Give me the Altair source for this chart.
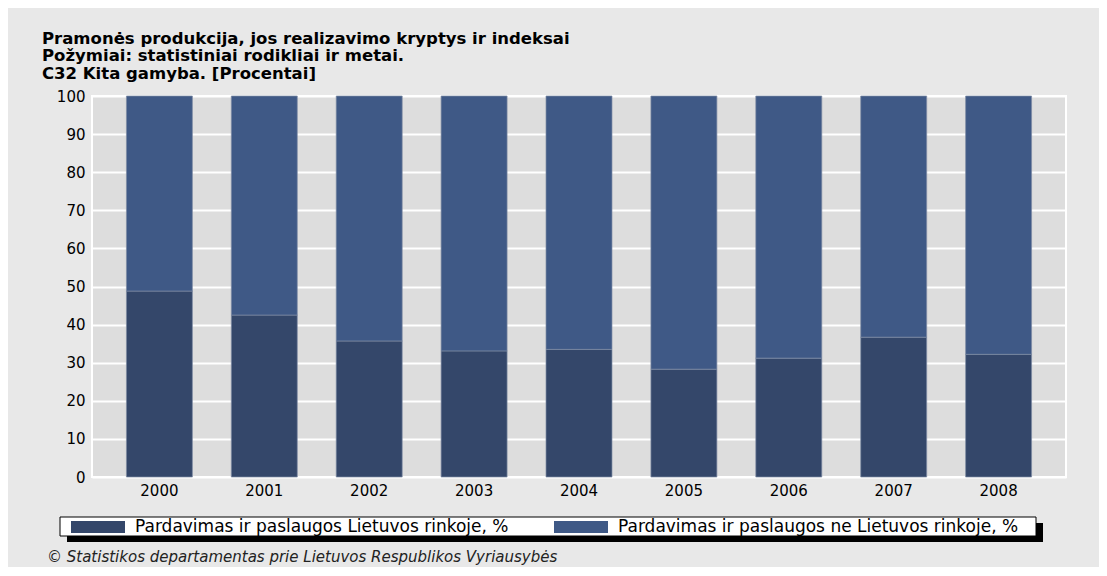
import altair as alt
import pandas as pd

years = ["2000", "2001", "2002", "2003", "2004", "2005", "2006", "2007", "2008"]
domestic = [48.8, 42.5, 35.7, 33.1, 33.5, 28.3, 31.2, 36.7, 32.2]
foreign = [51.2, 57.5, 64.3, 66.9, 66.5, 71.7, 68.8, 63.3, 67.8]
series = ["Pardavimas ir paslaugos Lietuvos rinkoje, %",
          "Pardavimas ir paslaugos ne Lietuvos rinkoje, %"]
colors = ["#34476a", "#3f5986"]
title_lines = ["Pramonės produkcija, jos realizavimo kryptys ir indeksai",
               "Požymiai: statistiniai rodikliai ir metai.",
               "C32 Kita gamyba. [Procentai]"]
source_text = "© Statistikos departamentas prie Lietuvos Respublikos Vyriausybės"
y_ticks = [0, 10, 20, 30, 40, 50, 60, 70, 80, 90, 100]

rows = []
for i, yr in enumerate(years):
    rows.append({"year": yr, "series": series[0], "value": domestic[i], "ord": 0})
    rows.append({"year": yr, "series": series[1], "value": foreign[i], "ord": 1})
df = pd.DataFrame(rows)
one = pd.DataFrame({"k": [0]})

FONT = "DejaVu Sans"

bars = alt.Chart(df).mark_bar(stroke="#7f8ca5", strokeWidth=0.7).encode(
    x=alt.X("year:N", sort=years, title=None,
            scale=alt.Scale(paddingInner=0.371, paddingOuter=0.328),
            axis=alt.Axis(labelAngle=0, ticks=False, domain=False, labelPadding=6,
                          labelFont=FONT, labelFontSize=15, labelColor="black")),
    y=alt.Y("value:Q", stack="zero", title=None,
            scale=alt.Scale(domain=[0, 100], nice=False),
            axis=alt.Axis(values=y_ticks, ticks=False, domain=False, labelPadding=7,
                          gridColor="white", gridWidth=2, gridOpacity=1,
                          labelFont=FONT, labelFontSize=15, labelColor="black")),
    color=alt.Color("series:N", sort=series,
                    scale=alt.Scale(domain=series, range=colors),
                    legend=alt.Legend(orient="none", legendX=-21, legendY=404,
                                      direction="horizontal", title=None,
                                      symbolType="M-1,-0.222H1V0.222H-1Z",
                                      symbolSize=2916, symbolStrokeWidth=0,
                                      symbolOpacity=1, labelFont=FONT,
                                      labelFontSize=17, labelColor="black",
                                      labelLimit=0, labelOffset=10,
                                      columnPadding=45, padding=0)),
    order=alt.Order("ord:Q"),
)

shadow = alt.Chart(one).mark_rect(color="black").encode(
    x=alt.value(-25), x2=alt.value(951), y=alt.value(427), y2=alt.value(446))
box = alt.Chart(one).mark_rect(fill="white", stroke="black", strokeWidth=1).encode(
    x=alt.value(-32), x2=alt.value(944), y=alt.value(421), y2=alt.value(440))
source = alt.Chart(one).mark_text(align="left", baseline="middle", font=FONT,
                                  fontSize=15, fontStyle="italic", color="#222222").encode(
    x=alt.value(-45), y=alt.value(461), text=alt.value(source_text))

chart = alt.layer(shadow, box, bars, source).properties(
    width=974, height=381,
    title=alt.Title(text=title_lines, anchor="start", frame="group", dx=-50, offset=7,
                    font=FONT, fontSize=16.5, fontWeight="bold", color="black",
                    lineHeight=17.5),
    autosize=alt.AutoSizeParams(type="none"),
    padding={"left": 84, "top": 88, "right": 33, "bottom": 90},
    background="#e8e8e8",
).configure_view(fill="#dddddd", stroke="white", strokeWidth=2)

chart.save("out.html", embed_options={"renderer": "svg", "actions": False})
